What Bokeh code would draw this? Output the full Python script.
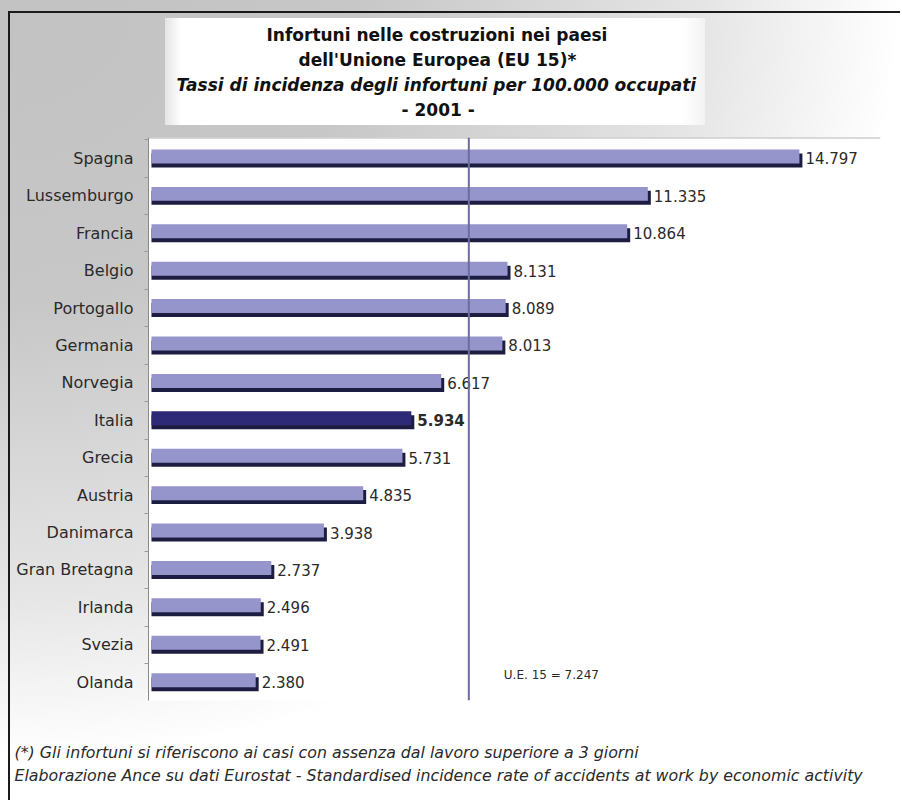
from bokeh.plotting import figure
from bokeh.models import ColumnDataSource, Range1d, LinearAxis, FixedTicker, Span, Label, Title
from bokeh.transform import dodge
from bokeh.core.properties import value
from bokeh.embed import file_html
from bokeh.resources import INLINE

# ---- data ----
countries = ["Spagna", "Lussemburgo", "Francia", "Belgio", "Portogallo", "Germania",
             "Norvegia", "Italia", "Grecia", "Austria", "Danimarca", "Gran Bretagna",
             "Irlanda", "Svezia", "Olanda"]
rates = [14797, 11335, 10864, 8131, 8089, 8013, 6617, 5934, 5731, 4835, 3938,
         2737, 2496, 2491, 2380]
highlight = "Italia"
eu15_average = 7247
title_lines = ["Infortuni nelle costruzioni nei paesi",
               "dell'Unione Europea (EU 15)*",
               "Tassi di incidenza degli infortuni per 100.000 occupati",
               "- 2001 -"]
footnotes = ["(*) Gli infortuni si riferiscono ai casi con assenza dal lavoro superiore a 3 giorni",
             "Elaborazione Ance su dati Eurostat - Standardised incidence rate of accidents at work by economic activity"]


def fmt(v):
    return f"{v:,}".replace(",", ".")


FONT = "DejaVu Sans"
W, H = 900, 800
LEFT, RIGHT, TOP, BOTTOM = 148, 20, 137, 100

src = ColumnDataSource(dict(
    y=list(range(len(countries))),
    country=countries,
    rate=rates,
    label=[fmt(v) for v in rates],
    fill=["#2e2a78" if c == highlight else "#9695cb" for c in countries],
    style=["bold" if c == highlight else "normal" for c in countries],
))

p = figure(width=W, height=H, output_backend="svg", toolbar_location=None,
           x_range=Range1d(-68, 16648), y_range=Range1d(14.49, -0.56),
           x_axis_location=None, y_axis_location=None,
           min_border_left=LEFT, min_border_right=RIGHT,
           min_border_top=TOP, min_border_bottom=BOTTOM)
p.background_fill_color = "white"
p.border_fill_color = None
p.outline_line_color = None
for g in p.xgrid + p.ygrid:
    g.visible = False

p.styles = {
    "background": (
        "linear-gradient(#1a1a1a,#1a1a1a) 8px 11px / 100% 2px no-repeat, "
        "linear-gradient(#1a1a1a,#1a1a1a) 8px 11px / 2px 100% no-repeat, "
        "linear-gradient(90deg,#e4e4e4,#ffffff 3%,#ffffff 96%,#f2f2f2) 165px 18px / 540px 107px no-repeat, "
        "radial-gradient(ellipse 900px 760px at 0px 0px, #c2c2c2 0%, #c7c7c7 40%, #e5e5e5 78%, #ffffff 100%)"
    )
}

# y axis with country names
yaxis = LinearAxis(
    ticker=FixedTicker(ticks=list(range(len(countries))),
                       minor_ticks=[i - 0.5 for i in range(len(countries) + 1)]),
    major_label_overrides={i: c for i, c in enumerate(countries)},
)
yaxis.major_tick_line_color = None
yaxis.major_tick_out = 0
yaxis.major_tick_in = 0
yaxis.minor_tick_out = 4
yaxis.minor_tick_in = 0
yaxis.minor_tick_line_color = "#9a9a9a"
yaxis.axis_line_color = "#8a8a8a"
yaxis.major_label_standoff = 11
yaxis.major_label_text_font = FONT
yaxis.major_label_text_font_size = "16px"
yaxis.major_label_text_color = "#2a2a2a"
p.add_layout(yaxis, "left")

# top line of plot area
p.add_layout(Span(location=-0.56, dimension="width", line_color="#b5b5b5", line_width=2))

# bars: shadow then face
p.hbar(y=dodge("y", 0.053), left=0, right=dodge("rate", 68), height=0.374,
       source=src, fill_color="#1d1d42", line_color=None)
p.hbar(y=dodge("y", -0.053), left=0, right="rate", height=0.374,
       source=src, fill_color="fill", line_color=None)

# value labels
p.text(x=dodge("rate", 68), y="y", text="label", source=src, x_offset=3,
       text_baseline="middle", text_align="left", text_font=value(FONT),
       text_font_size="15px", text_color="#2a2a2a", text_font_style="style")

# EU average line + label
p.add_layout(Span(location=eu15_average, dimension="height",
                  line_color="#6d6c9e", line_width=2))
p.add_layout(Label(x=eu15_average, y=len(countries) - 1, x_offset=35, y_offset=7,
                   text=f"U.E. 15 = {fmt(eu15_average)}", text_font=FONT,
                   text_font_size="12px", text_color="#2a2a2a", text_baseline="middle"))

# title block: spacer next to plot, then lines from bottom to top (stack outward)
p.add_layout(Title(text=" ", text_font_size="12px", standoff=0), "above")
title_styles = ["bold", "bold", "bold italic", "bold"]
title_offsets = [118, 150, 28, 253]
for t, st, off in reversed(list(zip(title_lines, title_styles, title_offsets))):
    p.add_layout(Title(text=t, align="left", offset=off, standoff=3,
                       text_font=FONT, text_font_size="17px", text_font_style=st,
                       text_color="#111111"), "above")

# footnotes below (spacer first)
p.add_layout(Title(text=" ", text_font_size="12px", standoff=23), "below")
for t in footnotes:
    p.add_layout(Title(text=t, align="left", offset=-134, standoff=2,
                       text_font=FONT, text_font_size="15.8px", text_font_style="italic",
                       text_color="#2a2a2a"), "below")

open("out.html", "w").write(file_html(p, INLINE))
